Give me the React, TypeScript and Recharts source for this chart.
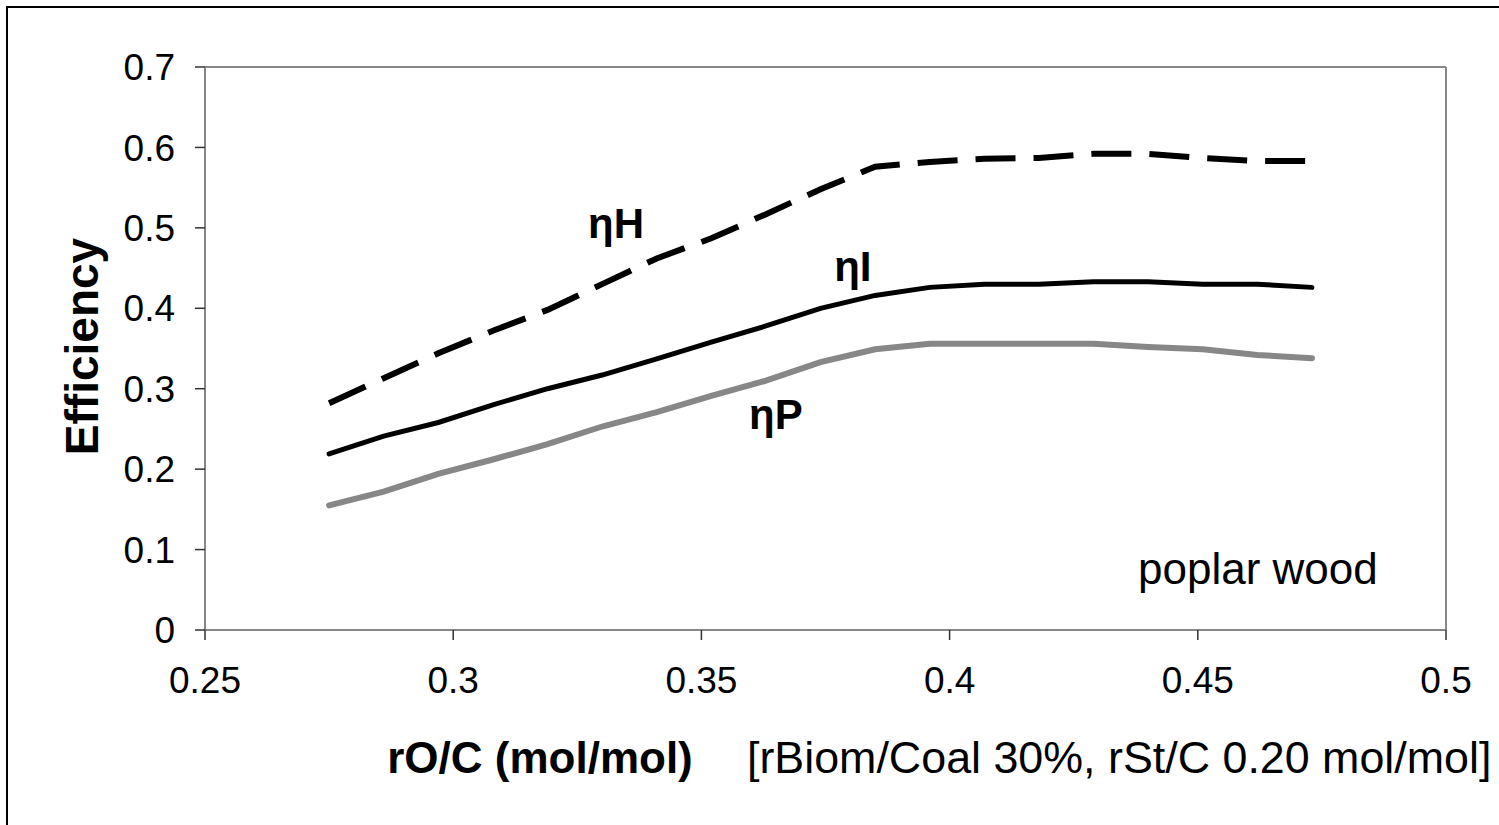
import {
  LineChart,
  Line,
  XAxis,
  YAxis,
  ReferenceLine,
  ReferenceDot,
  Label,
} from 'recharts';

// rO/C values (mol/mol)
const ratioOC = [
  0.275, 0.286, 0.297, 0.308, 0.319, 0.33, 0.341, 0.352, 0.363, 0.374,
  0.385, 0.396, 0.407, 0.418, 0.429, 0.44, 0.451, 0.462, 0.473,
];

const etaH = [
  0.282, 0.313, 0.344, 0.372, 0.398, 0.43, 0.462, 0.487, 0.517, 0.548,
  0.576, 0.582, 0.586, 0.587, 0.592, 0.592, 0.587, 0.583, 0.583,
];

const etaI = [
  0.219, 0.241, 0.258, 0.28, 0.3, 0.317, 0.337, 0.358, 0.378, 0.4,
  0.416, 0.426, 0.43, 0.43, 0.433, 0.433, 0.43, 0.43, 0.426,
];

const etaP = [
  0.155, 0.172, 0.194, 0.212, 0.231, 0.253, 0.271, 0.291, 0.31, 0.333,
  0.349, 0.356, 0.356, 0.356, 0.356, 0.352, 0.349, 0.342, 0.338,
];

const xTicks = [0.25, 0.3, 0.35, 0.4, 0.45, 0.5];
const yTicks = [0, 0.1, 0.2, 0.3, 0.4, 0.5, 0.6, 0.7];

const data = ratioOC.map((x, i) => ({
  x,
  etaH: etaH[i],
  etaI: etaI[i],
  etaP: etaP[i],
}));

const FONT = '"Liberation Sans", Arial, sans-serif';
const AXIS_GREY = '#868686';

const curveLabels = [
  { x: 0.3328, y: 0.506, text: 'ηH', bold: true },
  { x: 0.3805, y: 0.4526, text: 'ηI', bold: true },
  { x: 0.365, y: 0.2686, text: 'ηP', bold: true },
  { x: 0.4621, y: 0.077, text: 'poplar wood', bold: false },
];

function XTitle(props: any) {
  const vb = props.viewBox;
  const y = vb.y + 127;
  return (
    <g>
      <text x={540} y={y} textAnchor="middle" dominantBaseline="central"
        fontFamily={FONT} fontSize={44} fontWeight="bold" fill="#000">
        rO/C (mol/mol)
      </text>
      <text x={747} y={y} textAnchor="start" dominantBaseline="central"
        fontFamily={FONT} fontSize={44.8} fill="#000">
        [rBiom/Coal 30%, rSt/C 0.20 mol/mol]
      </text>
    </g>
  );
}

function YTitle(props: any) {
  const vb = props.viewBox;
  const cx = 82;
  const cy = vb.y + vb.height / 2 - 2;
  return (
    <text x={cx} y={cy} textAnchor="middle" dominantBaseline="central"
      transform={`rotate(-90 ${cx} ${cy})`}
      fontFamily={FONT} fontSize={46} fontWeight="bold" fill="#000">
      Efficiency
    </text>
  );
}

export default function App() {
  return (
    <div style={{ position: 'absolute', left: 0, top: 0, width: 1499, height: 825, overflow: 'hidden', background: '#fff' }}>
      <div style={{ position: 'absolute', left: 6, top: 6, width: 1600, height: 900, border: '2px solid #000' }} />
      <div style={{ position: 'absolute', left: 0, top: 0 }}>
        <LineChart width={1499} height={825} data={data}
          margin={{ top: 67, right: 53, bottom: 0, left: 0 }}>
          <XAxis dataKey="x" type="number" domain={[0.25, 0.5]} ticks={xTicks}
            height={195} tickSize={10} tickMargin={27}
            axisLine={{ stroke: AXIS_GREY, strokeWidth: 2 }}
            tickLine={{ stroke: '#333', strokeWidth: 1.5 }}
            tick={{ fontFamily: FONT, fontSize: 37, fill: '#000' }}
            interval={0}>
            <Label content={XTitle} />
          </XAxis>
          <YAxis type="number" domain={[0, 0.7]} ticks={yTicks} width={205}
            tickSize={10} tickMargin={20}
            axisLine={{ stroke: AXIS_GREY, strokeWidth: 2 }}
            tickLine={{ stroke: '#333', strokeWidth: 1.5 }}
            tick={{ fontFamily: FONT, fontSize: 37, fill: '#000' }}
            interval={0}>
            <Label content={YTitle} />
          </YAxis>
          <ReferenceLine y={0.7} stroke={AXIS_GREY} strokeWidth={2} />
          <ReferenceLine x={0.5} stroke={AXIS_GREY} strokeWidth={2} />
          <Line dataKey="etaP" stroke="#878787" strokeWidth={6} dot={false}
            strokeLinecap="round" type="linear" isAnimationActive={false} />
          <Line dataKey="etaI" stroke="#000" strokeWidth={5} dot={false}
            strokeLinecap="round" type="linear" isAnimationActive={false} />
          <Line dataKey="etaH" stroke="#000" strokeWidth={6} dot={false}
            strokeDasharray="40 18" type="linear" isAnimationActive={false} />
          {curveLabels.map((l) => (
            <ReferenceDot key={l.text} x={l.x} y={l.y} r={0} stroke="none" fill="none"
              label={{
                value: l.text,
                position: 'center',
                fontFamily: FONT,
                fontSize: l.bold ? 42 : 44,
                fontWeight: l.bold ? 'bold' : 'normal',
                fill: '#000',
              }} />
          ))}
        </LineChart>
      </div>
    </div>
  );
}
